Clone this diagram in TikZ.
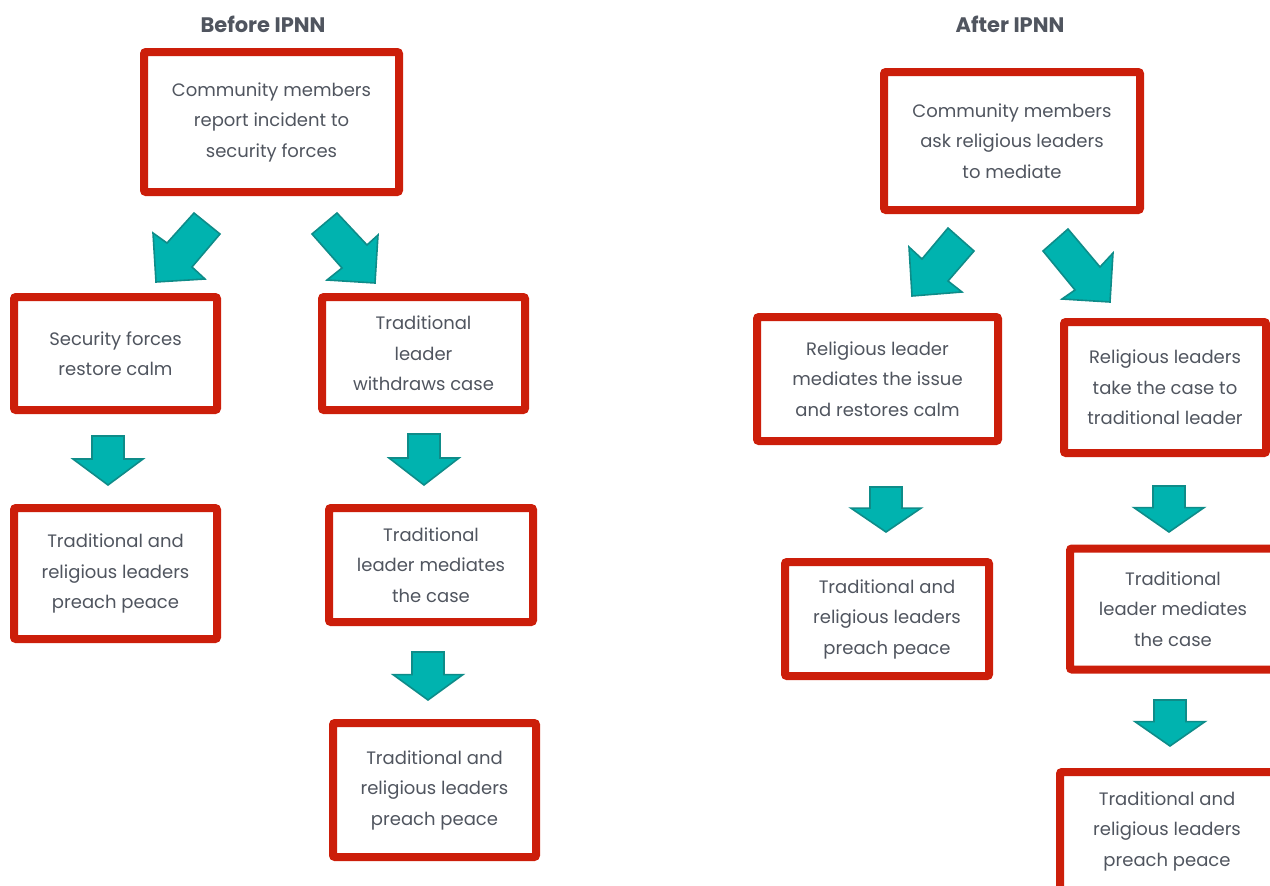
\documentclass[tikz,border=0pt]{standalone}
\usepackage{fontspec}
\setmainfont{Poppins}
\definecolor{boxred}{HTML}{CC1E0A}
\definecolor{txtgray}{HTML}{50555F}
\definecolor{tealfill}{HTML}{00B3AF}
\definecolor{tealline}{HTML}{0E8C89}
\begin{document}
\begin{tikzpicture}[x=1pt,y=-1pt,
  box/.style={draw=boxred,line width=8pt,rounded corners=2pt,fill=white,inner sep=0pt,
    align=center,text=txtgray,font=\fontsize{18}{30.5}\selectfont},
  title/.style={text=txtgray,font=\bfseries\fontsize{21}{24}\selectfont},
  blockarrow/.style={fill=tealfill,draw=tealline,line width=1.6pt,line join=miter}]
\useasboundingbox (0,0) rectangle (1270,886);
\begin{scope}
\clip (0,0) rectangle (1270,886);
% titles
\node[title] (t1) at (263,24) {Before IPNN};
\node[title] (t2) at (1010,24) {After IPNN};
% left column
\node[box,minimum width=255pt,minimum height=140pt] (b1) at (271.5,122) {Community members\\report incident to\\security forces};
\node[box,minimum width=203pt,minimum height=113pt] (b2) at (115.5,353.5) {Security forces\\restore calm};
\node[box,minimum width=203pt,minimum height=113pt] (b3) at (423.5,353.5) {Traditional\\leader\\withdraws case};
\node[box,minimum width=203pt,minimum height=131pt] (b4) at (115.5,573.5) {Traditional and\\religious leaders\\preach peace};
\node[box,minimum width=204pt,minimum height=114pt] (b5) at (431,565) {Traditional\\leader mediates\\the case};
\node[box,minimum width=203pt,minimum height=134pt] (b6) at (434.5,790) {Traditional and\\religious leaders\\preach peace};
% right column
\node[box,minimum width=256pt,minimum height=138pt] (r1) at (1012,141) {Community members\\ask religious leaders\\to mediate};
\node[box,minimum width=241pt,minimum height=124pt] (r2) at (877.5,379) {Religious leader\\mediates the issue\\and restores calm};
\node[box,minimum width=202pt,minimum height=131pt] (r3) at (1165,387.5) {Religious leaders\\take the case to\\traditional leader};
\node[box,minimum width=204pt,minimum height=114pt] (r4) at (887,619) {Traditional and\\religious leaders\\preach peace};
\node[box,minimum width=206pt,minimum height=121pt] (r5) at (1173,609) {Traditional\\leader mediates\\the case};
\node[box,minimum width=214pt,minimum height=118pt] (r6) at (1167,831) {Traditional and\\religious leaders\\preach peace};
% diagonal block arrows
\draw[blockarrow] (194,213) -- (220,234) -- (192,267) -- (205,279) -- (156,282) -- (153,233) -- (167,243) -- cycle;
\draw[blockarrow] (337,213) -- (312,234) -- (342,268) -- (327,280) -- (375,283) -- (378,235) -- (367,245) -- cycle;
\draw[blockarrow] (948,228) -- (974,251) -- (948,281) -- (962,292) -- (912,296) -- (909,247) -- (922,259) -- cycle;
\draw[blockarrow] (1068,229) -- (1043,251) -- (1075,290) -- (1062,299) -- (1110,302) -- (1113,253) -- (1100,267) -- cycle;
% down block arrows
\foreach \cx/\ty/\by [count=\i] in {108/436/485, 424/434/485, 428/652/700, 886/487/532, 1169/486/532, 1170/700/746}{
  \pgfmathsetmacro{\mid}{\ty+0.47*(\by-\ty)}
  \draw[blockarrow] (\cx-16,\ty) -- (\cx+16,\ty) -- (\cx+16,\mid) -- (\cx+35,\mid) -- (\cx,\by) -- (\cx-35,\mid) -- (\cx-16,\mid) -- cycle;
}
\end{scope}
\end{tikzpicture}
\end{document}
